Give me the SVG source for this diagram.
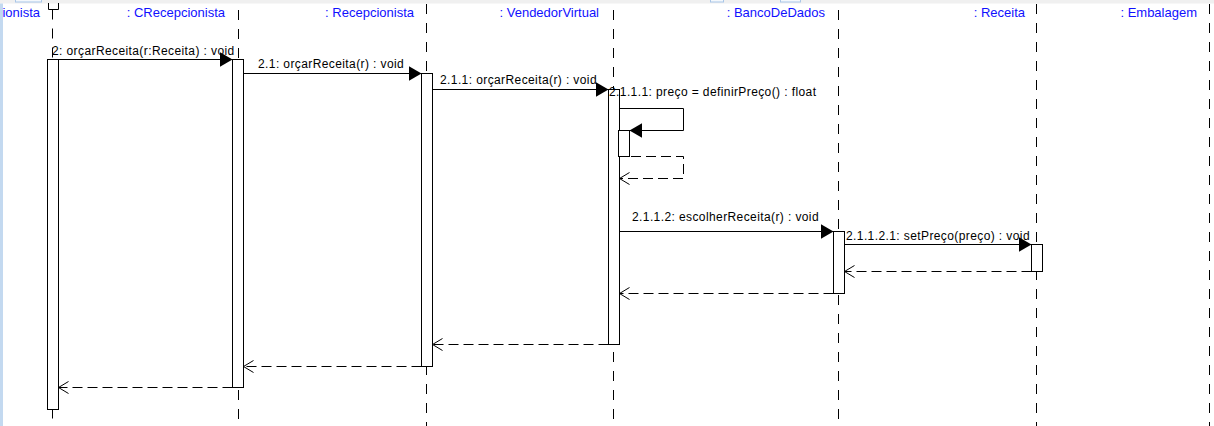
<svg xmlns="http://www.w3.org/2000/svg" width="1214" height="426" viewBox="0 0 1214 426">
<style>
.bg{fill:#ffffff}
.life{stroke:#000;stroke-width:1;stroke-dasharray:10 9;fill:none}
.act{fill:#fff;stroke:#000;stroke-width:1}
.name{font-family:"Liberation Sans",Arial,sans-serif;font-size:13px;fill:#1010ff;text-anchor:end}
.lbl{font-family:"Liberation Sans",Arial,sans-serif;font-size:12px;letter-spacing:0.4px;fill:#000}
.call{stroke:#000;stroke-width:1;fill:none;marker-end:url(#filled)}
.ret{stroke:#000;stroke-width:1;fill:none;stroke-dasharray:10 5;marker-end:url(#open)}
</style>
<defs>
<marker id="filled" markerUnits="userSpaceOnUse" markerWidth="13" markerHeight="15" viewBox="0 0 12 14" refX="12" refY="7" orient="auto">
<path d="M0,0 L12,7 L0,14 Z" fill="#000"/>
</marker>
<marker id="open" markerUnits="userSpaceOnUse" markerWidth="12" markerHeight="14" viewBox="0 0 12 14" refX="11" refY="7" orient="auto">
<path d="M1,1 L11,7 L1,13" fill="none" stroke="#000" stroke-width="1"/>
</marker>
</defs>
<rect class="bg" x="0" y="0" width="1214" height="426"/>
<rect x="0" y="0" width="1214" height="3.5" fill="#f0f0f0"/>
<rect x="15.5" y="-1" width="26" height="3" fill="#f4f8fc" stroke="#a9c6e8" stroke-width="1"/>
<rect x="710.5" y="-1" width="13" height="3" fill="#f4f8fc" stroke="#a9c6e8" stroke-width="1"/>
<rect x="780.5" y="-1" width="20" height="3" fill="#f4f8fc" stroke="#a9c6e8" stroke-width="1"/>
<rect x="0" y="3.5" width="3" height="422.5" fill="#c3d9f0"/>

<g id="p-recepcionista-left">
<text class="name" x="40" y="17">ionista</text>
<path d="M48.5,3 V9.5 H58.5 V3" fill="none" stroke="#000" stroke-width="1"/>
<line class="life" x1="52.5" y1="9.5" x2="52.5" y2="426"/>
<rect class="act" x="47.5" y="59.5" width="11" height="350"/>
</g>
<g id="p-crecepcionista">
<text class="name" x="225" y="17">: CRecepcionista</text>
<line class="life" x1="238.5" y1="10" x2="238.5" y2="426"/>
<rect class="act" x="232.5" y="59.5" width="11" height="328"/>
</g>
<g id="p-recepcionista">
<text class="name" x="414" y="17">: Recepcionista</text>
<line class="life" x1="426.5" y1="4" x2="426.5" y2="426"/>
<rect class="act" x="421.5" y="73.5" width="11" height="293"/>
</g>
<g id="p-vendedorvirtual">
<text class="name" x="599" y="17">: VendedorVirtual</text>
<line class="life" x1="613.5" y1="10" x2="613.5" y2="426"/>
<rect class="act" x="608.5" y="89.5" width="11" height="255"/>
<rect class="act" x="618.5" y="130.5" width="11" height="26"/>
</g>
<g id="p-bancodedados">
<text class="name" x="825" y="17">: BancoDeDados</text>
<line class="life" x1="838.5" y1="10" x2="838.5" y2="426"/>
<rect class="act" x="833.5" y="231.5" width="11" height="62"/>
</g>
<g id="p-receita">
<text class="name" x="1025" y="17">: Receita</text>
<line class="life" x1="1036.5" y1="4" x2="1036.5" y2="426"/>
<rect class="act" x="1031.5" y="244.5" width="11" height="27"/>
</g>
<g id="p-embalagem">
<text class="name" x="1197" y="17">: Embalagem</text>
<line class="life" x1="1209.5" y1="4" x2="1209.5" y2="426"/>
</g>

<g id="connectors">
<line class="call" x1="58.5" y1="59.5" x2="232.5" y2="59.5"/>
<line class="call" x1="243.5" y1="73.5" x2="421.5" y2="73.5"/>
<line class="call" x1="432.5" y1="89.5" x2="608.5" y2="89.5"/>
<path class="call" d="M619.5,108.5 H683.5 V130.5 H629.5"/>
<path class="ret" d="M631,156.5 H683.5 V178.5 H619.5"/>
<line class="call" x1="619.5" y1="231.5" x2="833.5" y2="231.5"/>
<line class="call" x1="844.5" y1="244.5" x2="1031.5" y2="244.5"/>
<line class="ret" x1="1031.5" y1="271.5" x2="844.5" y2="271.5"/>
<line class="ret" x1="833.5" y1="293.5" x2="619.5" y2="293.5"/>
<line class="ret" x1="608.5" y1="344.5" x2="432.5" y2="344.5"/>
<line class="ret" x1="421.5" y1="366.5" x2="243.5" y2="366.5"/>
<line class="ret" x1="232.5" y1="387.5" x2="58.5" y2="387.5"/>
</g>

<g id="labels">
<text class="lbl" x="52" y="55">2: orçarReceita(r:Receita) : void</text>
<text class="lbl" x="258" y="68">2.1: orçarReceita(r) : void</text>
<text class="lbl" x="440" y="84">2.1.1: orçarReceita(r) : void</text>
<text class="lbl" x="609" y="96">2.1.1.1: preço = definirPreço() : float</text>
<text class="lbl" x="632" y="221">2.1.1.2: escolherReceita(r) : void</text>
<text class="lbl" x="846" y="240">2.1.1.2.1: setPreço(preço) : void</text>
</g>
</svg>
